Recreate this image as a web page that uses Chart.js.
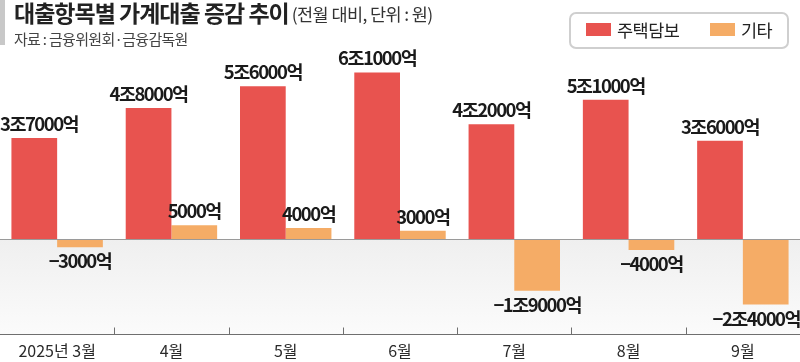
<!DOCTYPE html>
<html>
<head>
<meta charset="utf-8">
<script src="https://cdn.jsdelivr.net/npm/chart.js@4/dist/chart.umd.min.js"></script>
<style>
html,body{margin:0;padding:0;background:#fff;}
#wrap{position:relative;width:800px;height:362px;}
canvas{display:block;}
</style>
</head>
<body>
<div id="wrap"><canvas id="c" width="800" height="362"></canvas></div>
<script>
const categories = ['2025년 3월','4월','5월','6월','7월','8월','9월'];
const mortgage = [3.7, 4.8, 5.6, 6.1, 4.2, 5.1, 3.6];   // 조 원
const other = [-0.3, 0.5, 0.4, 0.3, -1.9, -0.4, -2.4];  // 조 원
const seriesNames = ['주택담보','기타'];
const titleText = '대출항목별 가계대출 증감 추이';
const unitText = '(전월 대비, 단위 : 원)';
const sourceText = '자료 : 금융위원회·금융감독원';

const RED = '#E8534F';
const ORANGE = '#F5AC66';
const FONT = '"Noto Sans CJK KR", "Noto Sans", sans-serif';

function fmt(v){
  const neg = v < 0;
  const a = Math.abs(v);
  const total = Math.round(a * 10000);
  const jo = Math.floor(total / 10000);
  const eok = total % 10000;
  let s = '';
  if (jo > 0) s += jo + '조';
  if (eok > 0) s += eok + '억';
  return (neg ? '−' : '') + s;
}

const decor = {
  id: 'decor',
  beforeDatasetsDraw(chart){
    const {ctx, chartArea, scales} = chart;
    const y0 = scales.y.getPixelForValue(0);
    const g = ctx.createLinearGradient(0, y0, 0, chartArea.bottom);
    g.addColorStop(0, '#efefef');
    g.addColorStop(1, '#fbfbfb');
    ctx.save();
    ctx.fillStyle = g;
    ctx.fillRect(chartArea.left, y0, chartArea.right - chartArea.left, chartArea.bottom - y0);
    ctx.restore();
  },
  afterDatasetsDraw(chart){
    const {ctx, chartArea, scales} = chart;
    const y0 = Math.round(scales.y.getPixelForValue(0)) + 0.5;
    ctx.save();
    ctx.strokeStyle = '#9a9a9a';
    ctx.lineWidth = 1;
    ctx.beginPath(); ctx.moveTo(chartArea.left, y0); ctx.lineTo(chartArea.right, y0); ctx.stroke();
    const yb = Math.round(chartArea.bottom) + 0.5;
    ctx.strokeStyle = '#6f6f6f';
    ctx.beginPath(); ctx.moveTo(chartArea.left, yb); ctx.lineTo(chartArea.right, yb); ctx.stroke();
    const xs = scales.x;
    for (let i = 1; i < categories.length; i++){
      const x = Math.round((xs.getPixelForValue(i-1) + xs.getPixelForValue(i)) / 2) + 0.5;
      ctx.beginPath(); ctx.moveTo(x, yb); ctx.lineTo(x, yb - 7); ctx.stroke();
    }
    ctx.font = 'bold 18.5px ' + FONT;
    ctx.fillStyle = '#1a1a1a';
    ctx.textAlign = 'left';
    ctx.textBaseline = 'alphabetic';
    try { ctx.letterSpacing = '-1.5px'; } catch(e) {}
    chart.data.datasets.forEach((ds, di) => {
      const meta = chart.getDatasetMeta(di);
      meta.data.forEach((bar, i) => {
        const v = ds.data[i];
        const txt = fmt(v);
        const w = ctx.measureText(txt).width;
        let x = bar.x - w / 2;
        if (x < 0) x = 0;
        if (x + w > chart.width) x = chart.width - w;
        const y = v >= 0 ? bar.y - 7 : bar.y + 21;
        ctx.fillText(txt, x, y);
      });
    });
    ctx.restore();
  },
  afterDraw(chart){
    const ctx = chart.ctx;
    ctx.save();
    ctx.fillStyle = '#c8c8c8';
    ctx.fillRect(0, 0, 5, 45);
    ctx.textBaseline = 'alphabetic';
    ctx.textAlign = 'left';
    ctx.fillStyle = '#222';
    try { ctx.letterSpacing = '-1px'; } catch(e) {}
    ctx.font = 'bold 23px ' + FONT;
    ctx.fillText(titleText, 14, 22);
    const tw = ctx.measureText(titleText).width;
    ctx.font = '17.5px ' + FONT;
    ctx.fillStyle = '#333';
    try { ctx.letterSpacing = '-0.6px'; } catch(e) {}
    ctx.fillText(unitText, 14 + tw + 3, 21);
    ctx.font = '15px ' + FONT;
    ctx.fillStyle = '#444';
    try { ctx.letterSpacing = '-0.7px'; } catch(e) {}
    ctx.fillText(sourceText, 14, 45);
    const lx = 570, ly = 13, lw = 218, lh = 35, r = 6;
    ctx.strokeStyle = '#cfcfcf';
    ctx.lineWidth = 2;
    ctx.beginPath();
    ctx.roundRect(lx, ly, lw, lh, r);
    ctx.stroke();
    try { ctx.letterSpacing = '-0.5px'; } catch(e) {}
    ctx.font = '17.5px ' + FONT;
    ctx.fillStyle = RED;
    ctx.fillRect(586, 23, 25, 13);
    ctx.fillStyle = '#222';
    ctx.textBaseline = 'middle';
    ctx.fillText(seriesNames[0], 617, 30);
    ctx.fillStyle = ORANGE;
    ctx.fillRect(710, 23, 25, 13);
    ctx.fillStyle = '#222';
    ctx.fillText(seriesNames[1], 741, 30);
    ctx.restore();
  }
};

new Chart(document.getElementById('c'), {
  type: 'bar',
  data: {
    labels: categories,
    datasets: [
      { label: seriesNames[0], data: mortgage, backgroundColor: RED, categoryPercentage: 0.8, barPercentage: 1.0, borderWidth: 0 },
      { label: seriesNames[1], data: other, backgroundColor: ORANGE, categoryPercentage: 0.8, barPercentage: 1.0, borderWidth: 0 }
    ]
  },
  options: {
    responsive: false,
    animation: false,
    devicePixelRatio: 1,
    layout: { padding: { top: 40, left: 0, right: 0, bottom: 0 } },
    plugins: { legend: { display: false }, tooltip: { enabled: false } },
    scales: {
      y: { display: false, min: -3.48, max: 7.29 },
      x: {
        grid: { display: false, drawTicks: false },
        border: { display: false },
        ticks: { color: '#2a2a2a', font: { family: FONT, size: 16 }, padding: 7, maxRotation: 0, autoSkip: false },
        afterFit(s){ s.height = 28; }
      }
    }
  },
  plugins: [decor]
});
</script>
</body>
</html>
